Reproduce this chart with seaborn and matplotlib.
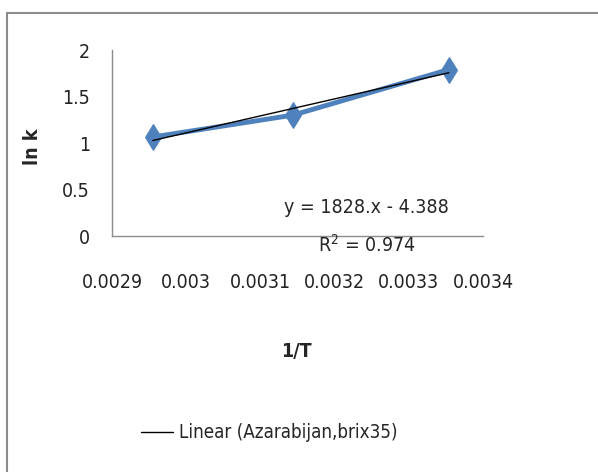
"""
Arrhenius plot: ln k against 1/T with a linear trendline
"""

import matplotlib
matplotlib.use('Agg')
import matplotlib.pyplot as plt
import seaborn as sns
import pandas as pd
from matplotlib.patches import Rectangle


# Data
inv_T = [0.002955, 0.003144, 0.003354]
ln_k = [1.065, 1.30, 1.79]
x_ticks = [0.0029, 0.003, 0.0031, 0.0032, 0.0033, 0.0034]
x_tick_labels = ['0.0029', '0.003', '0.0031', '0.0032', '0.0033', '0.0034']
y_ticks = [0, 0.5, 1, 1.5, 2]
y_tick_labels = ['0', '0.5', '1', '1.5', '2']
trend_label = 'Linear (Azarabijan,brix35)'
equation_text = 'y = 1828.x - 4.388'
r2_text = 'R$^2$ = 0.974'

df = pd.DataFrame({'inv_T': inv_T, 'ln_k': ln_k})

sns.set_style('white')
plt.rcParams['font.family'] = ['Liberation Sans Narrow', 'DejaVu Sans']
plt.rcParams['font.stretch'] = 'condensed'
plt.rcParams['mathtext.fontset'] = 'custom'
plt.rcParams['mathtext.rm'] = 'DejaVu Sans:stretch=condensed'

fig = plt.figure(figsize=(5.98, 4.72), dpi=100)
ax = fig.add_axes([0.1873, 0.5, 0.6204, 0.394])

# Data series
sns.lineplot(data=df, x='inv_T', y='ln_k', ax=ax, color='#4f81bd',
             linewidth=3.5, marker='d', markersize=13,
             markeredgecolor='#4f81bd', legend=False)

# Linear trendline
sns.regplot(data=df, x='inv_T', y='ln_k', ax=ax, scatter=False, ci=None,
            truncate=True, color='black', line_kws={'linewidth': 1},
            label=trend_label)

ax.set_xlim(0.0029, 0.0034)
ax.set_ylim(0, 2)
ax.set_xticks(x_ticks)
ax.set_xticklabels(x_tick_labels, fontsize=14)
ax.set_yticks(y_ticks)
ax.set_yticklabels(y_tick_labels, fontsize=14)
ax.tick_params(axis='x', length=0, pad=27, colors='#222222')
ax.tick_params(axis='y', length=0, pad=16, colors='#222222')

for side in ['top', 'right']:
    ax.spines[side].set_visible(False)
for side in ['left', 'bottom']:
    ax.spines[side].set_color('#8c8c8c')
    ax.spines[side].set_linewidth(1)

ax.set_xlabel('1/T', fontsize=14, fontweight='bold')
ax.set_ylabel('ln k', fontsize=14, fontweight='bold')
ax.xaxis.set_label_coords(0.497, -0.57)
ax.yaxis.set_label_coords(-0.19, 0.48)

# Trendline equation
fig.text(0.612, 0.561, equation_text, fontsize=14, ha='center', va='center')
fig.text(0.614, 0.481, r2_text, fontsize=14, ha='center', va='center')

# Legend shows only the trendline
trend_line = ax.get_lines()[-1]
fig.legend([trend_line], [trend_label], loc='center',
           bbox_to_anchor=(0.45, 0.083), frameon=False, fontsize=13.5,
           handlelength=1.7, handletextpad=0.35)

# Chart area border (cropped at right and bottom)
fig.patches.append(Rectangle((0.012, -0.1), 1.2, 1.072, transform=fig.transFigure,
                             fill=False, edgecolor='#8c8c8c', linewidth=1.5))

fig.savefig('out.png', dpi=100)
plt.close(fig)
